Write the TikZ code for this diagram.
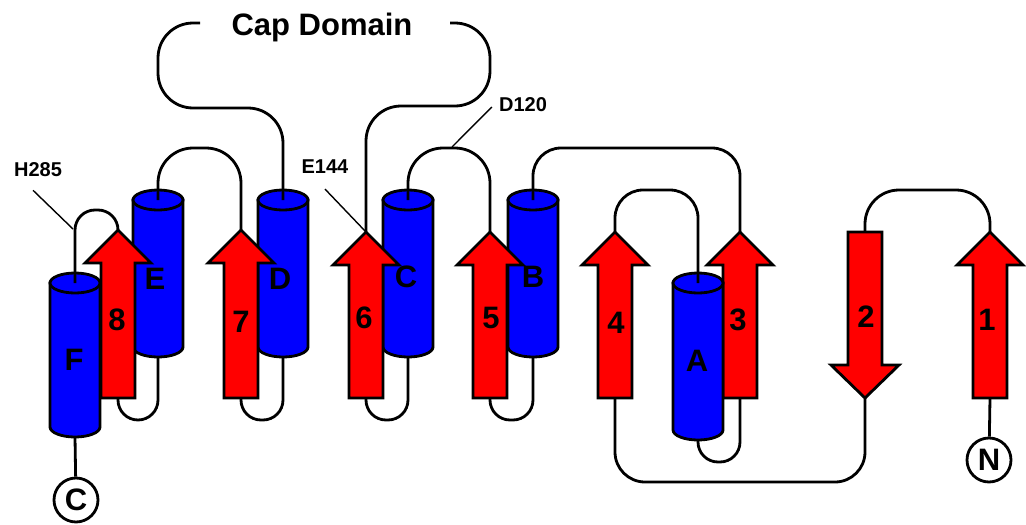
\documentclass[tikz,border=0pt]{standalone}
\usepackage{fontspec}
\setmainfont{Liberation Sans}
\tikzset{
  helixbody/.style={fill=blue, draw=black, line width=2.8pt},
  strandbody/.style={fill=red, draw=black, line width=2.8pt, line join=miter},
  loopline/.style={draw=black, line width=2.8pt},
  pointer/.style={draw=black, line width=1.4pt},
  ssename/.style={font=\bfseries\fontsize{31}{31}\selectfont, inner sep=0pt},
  resname/.style={font=\bfseries\fontsize{20}{20}\selectfont, inner sep=0pt},
  terminus/.style={circle, draw=black, fill=white, line width=2.8pt, minimum size=44pt, inner sep=0pt, font=\bfseries\fontsize{31}{31}\selectfont},
}
% cylinder: name, x, top y, bottom y
\newcommand{\helixat}[4]{%
  \filldraw[helixbody] (#2-25,#3) -- (#2-25,#4) arc[start angle=180, end angle=0, x radius=25, y radius=10] -- (#2+25,#3) -- cycle;
  \filldraw[helixbody] (#2,#3) ellipse [x radius=25, y radius=10];
  \coordinate (#1t) at (#2,#3);
  \coordinate (#1b) at (#2,#4+10);
}
% arrow pointing up: name, x, tip y, bottom y
\newcommand{\strandup}[4]{%
  \filldraw[strandbody] (#2-17,#4) -- (#2-17,#3+33) -- (#2-33,#3+33) -- (#2,#3) -- (#2+33,#3+33) -- (#2+17,#3+33) -- (#2+17,#4) -- cycle;
  \coordinate (#1t) at (#2,#3);
  \coordinate (#1b) at (#2,#4);
}

\begin{document}
\begin{tikzpicture}[x=1pt, y=-1pt]
    \useasboundingbox (0,0) rectangle (1026,525);
    \helixat{F}{75}{283}{427} % helix F
    \helixat{E}{158}{200}{347} % helix E
    \helixat{D}{283}{200}{347} % helix D
    \helixat{C}{408}{200}{347} % helix C
    \helixat{B}{533}{200}{347} % helix B
    \strandup{s8}{118}{230}{398} % strand 8
    \strandup{s7}{241}{230}{398} % strand 7
    \strandup{s6}{366}{232}{398} % strand 6
    \strandup{s5}{490}{232}{398} % strand 5
    \strandup{s4}{615}{232}{398} % strand 4
    \strandup{s3}{740}{232}{398} % strand 3
    \strandup{s1}{990}{232}{398} % strand 1
    \filldraw[strandbody] (848,232) -- (882,232) -- (882,365) -- (899,365) -- (865,398) -- (831,365) -- (848,365) -- cycle; % strand 2, pointing down
    \coordinate (s2t) at (865,232);
    \coordinate (s2b) at (865,398);
    \helixat{A}{698}{283}{430} % helix A
    \node[terminus] (nterm) at (989,460) {N};
    \node[terminus] (cterm) at (76,500) {C};
    \draw[loopline] (nterm) -- (s1b);
    \draw[loopline, rounded corners=34pt] (s1t) -- ++(0,-42) -| (s2t);
    \draw[loopline, rounded corners=30pt] (s2b) -- ++(0,84) -| (s4b);
    \draw[loopline, rounded corners=28pt] (s4t) -- ++(0,-42) -| (At);
    \draw[loopline, rounded corners=20pt] (Ab) -- ++(0,22) -| (s3b);
    \draw[loopline, rounded corners=28pt] (s3t) -- ++(0,-84) -| (Bt);
    \draw[loopline, rounded corners=20pt] (Bb) -- ++(0,63) -| (s5b);
    \draw[loopline, rounded corners=35pt] (s5t) -- ++(0,-84) -| (Ct);
    \draw[loopline, rounded corners=20pt] (Cb) -- ++(0,63) -| (s6b);
    \draw[loopline, rounded corners=35pt] (s6t) -- ++(0,-126) -- ++(124,0) -- ++(0,-83) -- ++(-40,0); % into cap domain
    \draw[loopline, rounded corners=35pt] (Dt) -- ++(0,-92) -- ++(-125,0) -- ++(0,-85) -- ++(42,0); % out of cap domain
    \draw[loopline, rounded corners=20pt] (Db) -- ++(0,63) -| (s7b);
    \draw[loopline, rounded corners=35pt] (s7t) -- ++(0,-82) -| (Et);
    \draw[loopline, rounded corners=20pt] (Eb) -- ++(0,63) -| (s8b);
    \draw[loopline, rounded corners=20pt] (s8t) -- ++(0,-20) -| (Ft);
    \draw[loopline] (Fb) -- (cterm);
    % labels
    \node[ssename, anchor=base] (capdom) at (322,35) {Cap Domain};
    \node[ssename] (lF) at (74,360) {F};
    \node[ssename] (lE) at (155,279) {E};
    \node[ssename] (lD) at (280,279) {D};
    \node[ssename] (lC) at (406,277) {C};
    \node[ssename] (lB) at (533,277) {B};
    \node[ssename] (lA) at (697,361) {A};
    \node[ssename] (l8) at (117,320) {8};
    \node[ssename] (l7) at (241,322) {7};
    \node[ssename] (l6) at (364,318) {6};
    \node[ssename] (l5) at (491,318) {5};
    \node[ssename] (l4) at (616,323) {4};
    \node[ssename] (l3) at (738,320) {3};
    \node[ssename] (l2) at (866,317) {2};
    \node[ssename] (l1) at (987,320) {1};
    % residues
    \coordinate (pH285) at (73,229);
    \coordinate (pD120) at (452,147);
    \node[resname] (lH285) at (38,170) {H285};
    \node[resname] (lE144) at (325,167) {E144};
    \node[resname] (lD120) at (523,105) {D120};
    \draw[pointer] ([shift={(-5,13)}]lH285.south) -- (pH285);
    \draw[pointer] ([shift={(0,15)}]lE144.south) -- (s6t);
    \draw[pointer] ([shift={(-7,2)}]lD120.west) -- (pD120);
\end{tikzpicture}
\end{document}
